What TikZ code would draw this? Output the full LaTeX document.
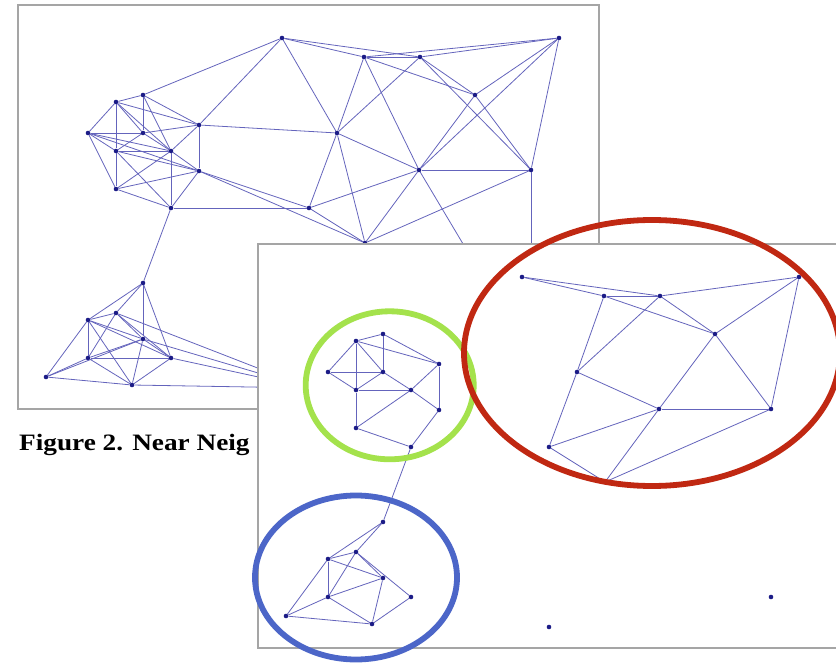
\documentclass[tikz,border=0pt]{standalone}
\usepackage{fontspec}
\setmainfont{Liberation Serif}
\definecolor{edgecol}{RGB}{100,100,188}
\definecolor{dotcol}{RGB}{28,28,135}
\definecolor{panelcol}{RGB}{165,165,165}
\definecolor{ringgreen}{RGB}{164,226,76}
\definecolor{ringred}{RGB}{192,40,18}
\definecolor{ringblue}{RGB}{76,102,200}
\newcommand\placegraph[1]{%
  \node[gdot] (#1-a1) at (282,38) {};
  \node[gdot] (#1-b1) at (116,102) {};
  \node[gdot] (#1-b2) at (143,95) {};
  \node[gdot] (#1-b3) at (88,133) {};
  \node[gdot] (#1-b4) at (143,133) {};
  \node[gdot] (#1-b5) at (199,125) {};
  \node[gdot] (#1-b6) at (116,151) {};
  \node[gdot] (#1-b7) at (171,151) {};
  \node[gdot] (#1-b8) at (199,171) {};
  \node[gdot] (#1-b9) at (116,189) {};
  \node[gdot] (#1-b10) at (171,208) {};
  \node[gdot] (#1-c1) at (364,57) {};
  \node[gdot] (#1-c2) at (420,57) {};
  \node[gdot] (#1-c3) at (559,38) {};
  \node[gdot] (#1-c4) at (475,95) {};
  \node[gdot] (#1-c5) at (337,133) {};
  \node[gdot] (#1-c6) at (419,170) {};
  \node[gdot] (#1-c7) at (531,170) {};
  \node[gdot] (#1-c8) at (309,208) {};
  \node[gdot] (#1-c9) at (365,243) {};
  \node[gdot] (#1-d1) at (143,283) {};
  \node[gdot] (#1-d2) at (88,320) {};
  \node[gdot] (#1-d3) at (116,313) {};
  \node[gdot] (#1-d4) at (143,339) {};
  \node[gdot] (#1-d5) at (88,358) {};
  \node[gdot] (#1-d6) at (171,358) {};
  \node[gdot] (#1-d7) at (46,377) {};
  \node[gdot] (#1-d8) at (132,385) {};
  \node[gdot] (#1-e1) at (309,388) {};
  \node[gdot] (#1-e2) at (531,358) {};
}
\begin{document}
\begin{tikzpicture}[x=1pt,y=-1pt,
  gdot/.style={circle,fill=dotcol,draw=none,inner sep=0pt,minimum size=4.6pt},
  gedge/.style={draw=edgecol,line width=0.8pt},
  panel/.style={draw=panelcol,line width=1.6pt},
  ring/.style={line width=5.8pt}]
\useasboundingbox (0,0) rectangle (836,663);
\clip (0,0) rectangle (836,663);
% back panel
\draw[panel] (18,5) rectangle (599,409);
\placegraph{k}
\foreach \a/\b in {b1/b2,b1/b3,b1/b4,b1/b5,b1/b6,b1/b7,b2/b4,b2/b5,b2/b7,b2/a1,
  b3/b4,b3/b6,b3/b7,b3/b8,b3/b9,b4/b5,b4/b6,b4/b7,b5/b7,b5/b8,b5/a1,b5/c5,
  b6/b7,b6/b8,b6/b9,b6/b10,b7/b8,b7/b9,b7/b10,b8/b9,b8/b10,b8/c8,b8/c9,b9/b10,
  b10/c8,b10/d1,
  a1/c1,a1/c2,a1/c5,c1/c2,c1/c3,c2/c3,c1/c4,c1/c5,c1/c6,c2/c4,c2/c5,c2/c7,
  c3/c4,c3/c6,c3/c7,c4/c6,c4/c7,c5/c6,c5/c8,c5/c9,c6/c7,c6/c8,c6/c9,c6/e2,
  c7/c9,c7/e2,c8/c9,
  d1/d2,d1/d3,d1/d4,d1/d6,d2/d3,d2/d4,d2/d5,d2/d6,d2/d7,d2/d8,d3/d4,d3/d5,
  d3/d6,d3/e1,d4/d5,d4/d6,d4/d7,d4/d8,d4/e1,d5/d6,d5/d7,d5/d8,d6/d8,d6/e1,
  d7/d8,d8/e1}
  \draw[gedge] (k-\a) -- (k-\b);
\node[anchor=base west,inner sep=0pt] (caption) at (19,450)
  {\scalebox{1.16}[1]{\fontsize{23.5}{28}\selectfont\bfseries Figure 2. Near Neig}};
% front panel
\fill[white] (258,244) rectangle (880,648);
\draw[panel] (258,244) rectangle (880,648);
\begin{scope}[shift={(240,239)}]
\placegraph{f}
\foreach \a/\b in {b1/b2,b1/b3,b1/b4,b1/b5,b1/b6,b2/b4,b2/b5,b3/b4,b3/b6,b4/b6,
  b4/b7,b6/b7,b6/b9,b5/b7,b5/b8,b7/b8,b7/b9,b9/b10,b8/b10,b10/d1,
  d1/d2,d1/d3,d2/d3,d2/d4,d2/d5,d2/d7,d3/d4,d3/d6,d3/d5,d4/d5,d4/d8,d5/d7,
  d5/d8,d6/d8,d7/d8,
  a1/c1,a1/c2,c1/c2,c2/c3,c1/c4,c2/c4,c2/c5,c1/c5,c5/c8,c3/c4,c3/c7,c4/c6,
  c4/c7,c5/c6,c6/c7,c6/c8,c6/c9,c7/c9,c8/c9}
  \draw[gedge] (f-\a) -- (f-\b);
\end{scope}
% rings
\draw[ring,ringgreen] (389.7,385.3) ellipse [x radius=84, y radius=74];
\draw[ring,ringred] (652,353) ellipse [x radius=188, y radius=133];
\draw[ring,ringblue] (356,577.5) ellipse [x radius=101, y radius=82];
\end{tikzpicture}
\end{document}
